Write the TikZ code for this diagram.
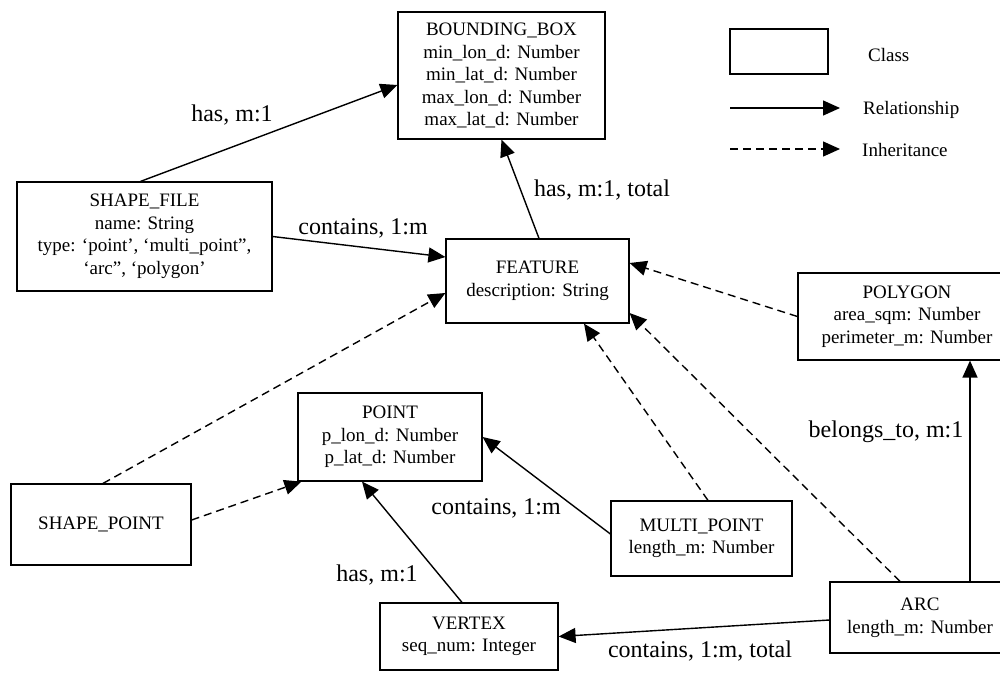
\documentclass[tikz,border=0pt]{standalone}
\usepackage{fontspec}
\setmainfont{Liberation Serif}
\usetikzlibrary{arrows.meta}
\begin{document}
\begin{tikzpicture}[x=1pt,y=-1pt,
  cls/.style={draw, line width=1.2pt, inner sep=0pt, align=center,
    font=\fontsize{19}{22.5}\selectfont},
  lbl/.style={inner sep=0pt, font=\fontsize{24}{28}\selectfont},
  leg/.style={inner sep=0pt, anchor=west, font=\fontsize{19}{22.5}\selectfont},
  rel/.style={line width=1.4pt, -{Triangle[length=17pt,width=15pt]}},
  inh/.style={line width=1.4pt, dash pattern=on 8pt off 5pt, -{Triangle[length=17pt,width=15pt]}}
]
\useasboundingbox (0,0) rectangle (1000,672);
\fill[white] (0,0) rectangle (1000,672);

% classes
\node[cls, minimum width=207pt, minimum height=127pt] (bb) at (501.5,75.5)
  {BOUNDING\_BOX\\ min\_lon\_d: Number\\ min\_lat\_d: Number\\ max\_lon\_d: Number\\ max\_lat\_d: Number};
\node[cls, minimum width=255pt, minimum height=109pt] (sf) at (144.5,236.5)
  {SHAPE\_FILE\\ name: String\\ type: `point', `multi\_point'',\\ `arc'', `polygon'};
\node[cls, minimum width=183pt, minimum height=84pt] (feat) at (537.5,281)
  {FEATURE\\ description: String};
\node[cls, minimum width=218pt, minimum height=87pt] (poly) at (907,316.5)
  {POLYGON\\ area\_sqm: Number\\ perimeter\_m: Number};
\node[cls, minimum width=184pt, minimum height=88pt] (point) at (390,437)
  {POINT\\ p\_lon\_d: Number\\ p\_lat\_d: Number};
\node[cls, minimum width=180pt, minimum height=81pt] (sp) at (101,524.5)
  {SHAPE\_POINT};
\node[cls, minimum width=181pt, minimum height=75pt] (mp) at (701.5,538.5)
  {MULTI\_POINT\\ length\_m: Number};
\node[cls, minimum width=180pt, minimum height=71pt] (arc) at (920,617.5)
  {ARC\\ length\_m: Number};
\node[cls, minimum width=178pt, minimum height=67pt] (vert) at (469,636.5)
  {VERTEX\\ seq\_num: Integer};

% relationships
\draw[rel] ([xshift=-4pt]sf.north) -- ([yshift=-9.5pt]bb.west);
\draw[rel] (sf.east) -- ([yshift=24pt]feat.west);
\draw[rel] ([xshift=1.5pt]feat.north) -- (bb.south);
\draw[rel] ([yshift=4.5pt]mp.west) -- (point.east);
\draw[rel] ([xshift=-7pt]vert.north) -- ([xshift=-28pt]point.south);
\draw[rel] ([yshift=-2.5pt]arc.west) -- (vert.east);
\draw[rel] ([xshift=50pt]arc.north) -- ([xshift=50pt]arc.north |- poly.south);

% inheritance
\draw[inh] (poly.west) -- ([yshift=18pt]feat.east);
\draw[inh] ([xshift=2pt]sp.north) -- ([yshift=-12pt]feat.west);
\draw[inh] ([xshift=6.5pt]mp.north) -- ([xshift=46.5pt]feat.south);
\draw[inh] ([xshift=-20pt]arc.north) -- ([yshift=-32pt]feat.east);
\draw[inh] ([yshift=4.5pt]sp.east) -- ([xshift=4pt]point.south west);

% labels
\node[lbl] (l1) at (232,115) {has, m:1};
\node[lbl] (l2) at (363,228) {contains, 1:m};
\node[lbl] (l3) at (602,190) {has, m:1, total};
\node[lbl] (l4) at (886,432) {belongs\_to, m:1};
\node[lbl] (l5) at (496,508) {contains, 1:m};
\node[lbl] (l6) at (377,575) {has, m:1};
\node[lbl] (l7) at (700,651) {contains, 1:m, total};

% legend
\node[draw, line width=1.2pt, minimum width=98pt, minimum height=45pt, inner sep=0pt] (legbox) at (779,51.5) {};
\node[leg] (legc) at (868,55) {Class};
\coordinate (r1) at (730,108);
\coordinate (r2) at (840,108);
\draw[rel] (r1) -- (r2);
\node[leg] (legr) at (863,110) {Relationship};
\coordinate (i1) at (730,149);
\coordinate (i2) at (840,149);
\draw[inh] (i1) -- (i2);
\node[leg] (legi) at (862,150) {Inheritance};
\end{tikzpicture}
\end{document}
